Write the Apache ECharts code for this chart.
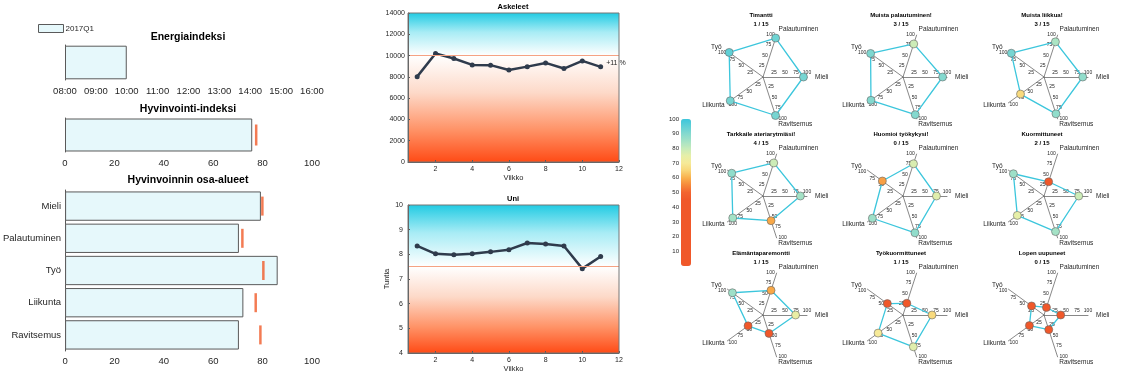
<!DOCTYPE html>
<html>
<head>
<meta charset="utf-8">
<script src="https://cdn.jsdelivr.net/npm/echarts@6/dist/echarts.min.js"></script>
<style>
  html, body { margin: 0; padding: 0; background: #fff; }
  #chart { width: 1122px; height: 376px; }
</style>
</head>
<body>
<div id="chart"></div>
<script>
// --- data ---
const timeTicks = ['08:00', '09:00', '10:00', '11:00', '12:00', '13:00', '14:00', '15:00', '16:00'];
const energyStart = [8];
const energyHours = [2];

const wellbeingIndex = [75.8];
const wellbeingTarget = [77.4];

const areas = ['Mieli', 'Palautuminen', 'Työ', 'Liikunta', 'Ravitsemus'];
const areaValues = [79.3, 70.4, 86.1, 72.2, 70.4];
const areaTargets = [79.9, 71.8, 80.3, 77.2, 79.1];

const weeks = [1, 2, 3, 4, 5, 6, 7, 8, 9, 10, 11];
const weekTicks = [2, 4, 6, 8, 10, 12];
const steps = [8020, 10190, 9720, 9120, 9100, 8650, 8960, 9310, 8780, 9500, 8940];
const stepsGoal = 10000;
const stepsNote = '+11 %';
const sleep = [8.34, 8.02, 7.98, 8.02, 8.10, 8.19, 8.46, 8.42, 8.34, 7.42, 7.91];
const sleepGoal = 7.5;

const radarAxes = ['Mieli', 'Palautuminen', 'Työ', 'Liikunta', 'Ravitsemus'];
const radarTitles = ['Timantti', 'Muista palautuminen!', 'Muista liikkua!',
  'Tarkkaile ateriarytmiäsi!', 'Huomioi työkykysi!', 'Kuormittuneet',
  'Elämäntaparemontti', 'Työkuormittuneet', 'Lopen uupuneet'];
const radarCounts = ['1 / 15', '3 / 15', '3 / 15', '4 / 15', '0 / 15', '2 / 15', '1 / 15', '1 / 15', '0 / 15'];
const timantti = [92, 93, 95, 92, 92];
const muistaPalautuminen = [90, 79, 91, 90, 90];
const muistaLiikkua = [88, 84, 92, 66, 88];
const tarkkaileAteriarytmia = [85, 79, 88, 85, 59];
const huomioiTyokyky = [76, 77, 58, 86, 88];
const kuormittuneet = [79, 34, 86, 75, 85];
const elamantaparemontti = [74, 59, 86, 42, 44];
const tyokuormittuneet = [66, 28, 44, 70, 76];
const lopenUupuneet = [38, 18, 35, 41, 35];
const profiles = [timantti, muistaPalautuminen, muistaLiikkua, tarkkaileAteriarytmia,
  huomioiTyokyky, kuormittuneet, elamantaparemontti, tyokuormittuneet, lopenUupuneet];

// colour scale 0..100 in steps of 5
const colormap = ['#f0582a', '#f0582a', '#f0582a', '#f0582a', '#f0582a', '#f0582a', '#f0582a',
  '#f0582a', '#f0582a', '#f0582a', '#f26430', '#f6883a', '#f9b04c', '#f8d678', '#f6ea98',
  '#e6efa8', '#c6ebbb', '#a4e2c6', '#84d9cf', '#60d0d6', '#3cc6dc'];

// --- layout ---
const FONT = '"Liberation Sans", Arial, Helvetica, sans-serif';
const TXT = '#262626';
const AXC = '#595959';
const barStyle = { color: '#e6f8fb', borderColor: '#5a5a5a', borderWidth: 1 };
const targetColor = '#f05a28';
const radarX = [763, 903, 1044];
const radarY = [77, 196, 315];
const radarCenters = [];
radarY.forEach(y => radarX.forEach(x => radarCenters.push([x, y])));

const chart = echarts.init(document.getElementById('chart'));

function titleAt(text, x, y, size) {
  return { text, left: x, top: y, textAlign: 'center', padding: 0,
    textStyle: { fontSize: size, fontWeight: 'bold', color: '#000', fontFamily: FONT } };
}

function pctAxis(gridIndex, margin) {
  return {
    gridIndex, type: 'value', min: 0, max: 100, interval: 20,
    axisLine: { lineStyle: { color: AXC } },
    axisTick: { inside: true, length: 3, lineStyle: { color: AXC } },
    axisLabel: { fontSize: 9.5, color: TXT, margin },
    splitLine: { show: false }
  };
}

function weekAxis(gridIndex) {
  return {
    gridIndex, type: 'value', min: 0.5, max: 12,
    name: 'Viikko', nameLocation: 'middle', nameGap: 12,
    nameTextStyle: { fontSize: 7.5, color: TXT },
    axisLine: { lineStyle: { color: AXC } },
    axisTick: { inside: true, length: 2, customValues: weekTicks, lineStyle: { color: AXC } },
    axisLabel: { fontSize: 7, color: TXT, margin: 4, customValues: weekTicks },
    splitLine: { show: false }, z: 5
  };
}

function bgAreas(goal, lo, hi) {
  return {
    silent: true,
    data: [
      [{ yAxis: goal, itemStyle: { color: new echarts.graphic.LinearGradient(0, 0, 0, 1, [
          { offset: 0, color: '#22cbe3' }, { offset: 0.45, color: '#a8ecf5' }, { offset: 1, color: '#ffffff' }]) } },
       { yAxis: hi }],
      [{ yAxis: lo, itemStyle: { color: new echarts.graphic.LinearGradient(0, 0, 0, 1, [
          { offset: 0, color: '#ffffff' }, { offset: 0.35, color: '#fdd9c8' },
          { offset: 0.7, color: '#ff9266' }, { offset: 1, color: '#ff4b16' }]) } },
       { yAxis: goal }]
    ]
  };
}

function goalLine(goal) {
  return { silent: true, symbol: 'none', label: { show: false },
    lineStyle: { color: '#f5a283', width: 1, type: 'solid' }, data: [{ yAxis: goal }] };
}

const lineStyleSeries = {
  type: 'line', symbol: 'circle', symbolSize: 5,
  lineStyle: { color: '#2f3b4c', width: 2.5 }, itemStyle: { color: '#2f3b4c' }
};

const series = [
  { type: 'bar', stack: 'e', xAxisIndex: 0, yAxisIndex: 0, data: energyStart, barWidth: '96%',
    itemStyle: { color: 'rgba(0,0,0,0)', borderWidth: 0 }, silent: true },
  { name: '2017Q1', type: 'bar', stack: 'e', xAxisIndex: 0, yAxisIndex: 0, data: energyHours,
    barWidth: '96%', itemStyle: barStyle },
  { type: 'bar', xAxisIndex: 1, yAxisIndex: 1, data: wellbeingIndex, barWidth: '97%', itemStyle: barStyle },
  { type: 'scatter', xAxisIndex: 1, yAxisIndex: 1, data: wellbeingTarget.map((v, i) => [v, i]),
    symbol: 'rect', symbolSize: [2.5, 21], itemStyle: { color: targetColor } },
  { type: 'bar', xAxisIndex: 2, yAxisIndex: 2, data: areaValues, barCategoryGap: '9%', itemStyle: barStyle },
  { type: 'scatter', xAxisIndex: 2, yAxisIndex: 2, data: areaTargets.map((v, i) => [v, i]),
    symbol: 'rect', symbolSize: [2.5, 19], itemStyle: { color: targetColor } },
  Object.assign({}, lineStyleSeries, { xAxisIndex: 3, yAxisIndex: 3,
    data: steps.map((v, i) => i === steps.length - 1
      ? { value: [weeks[i], v], label: { show: true, formatter: stepsNote, position: 'right', offset: [-2, -4],
          fontSize: 7, color: TXT } }
      : [weeks[i], v]),
    markArea: bgAreas(stepsGoal, 0, 14000), markLine: goalLine(stepsGoal) }),
  Object.assign({}, lineStyleSeries, { xAxisIndex: 4, yAxisIndex: 4,
    data: sleep.map((v, i) => [weeks[i], v]),
    markArea: bgAreas(sleepGoal, 4, 10), markLine: goalLine(sleepGoal) })
];

const markerSeries = [];
profiles.forEach((vals, i) => {
  series.push({ type: 'radar', radarIndex: i, symbol: 'none', silent: true,
    lineStyle: { color: '#3cc6dc', width: 1.3 }, data: [{ value: vals }] });
});
profiles.forEach((vals, i) => {
  markerSeries.push(series.length);
  series.push({ type: 'scatter', coordinateSystem: 'polar', polarIndex: i, symbolSize: 8, z: 4,
    itemStyle: { borderColor: '#666', borderWidth: 0.6, opacity: 1 },
    data: vals.map((v, k) => [v, k * 360 / radarAxes.length]) });
});

const option = {
  animation: false,
  textStyle: { fontFamily: FONT },
  title: [
    titleAt('Energiaindeksi', 188, 32, 10.5),
    titleAt('Hyvinvointi-indeksi', 188, 104, 10.5),
    titleAt('Hyvinvoinnin osa-alueet', 188, 175, 10.5),
    titleAt('Askeleet', 513, 3, 7.5),
    titleAt('Uni', 513, 195, 7.5)
  ].concat(radarTitles.map((t, i) => ({
    text: t + '\n' + radarCounts[i], left: radarCenters[i][0] - 2, top: radarCenters[i][1] - 66,
    textAlign: 'center', padding: 0,
    textStyle: { fontSize: 6, fontWeight: 'bold', color: '#000', lineHeight: 9, fontFamily: FONT }
  }))),
  legend: {
    data: ['2017Q1'], left: 38, top: 24, padding: 0, itemWidth: 25, itemHeight: 8, itemGap: 2,
    icon: 'rect', itemStyle: barStyle, textStyle: { fontSize: 8, color: TXT, padding: [0, 0, 0, -3] }
  },
  grid: [
    { left: 65, top: 45, width: 247, height: 35 },
    { left: 65, top: 118, width: 247, height: 34 },
    { left: 65, top: 190, width: 247, height: 161 },
    { left: 408, top: 13, width: 211, height: 149, show: true, borderColor: '#777', borderWidth: 1, z: 6,
      backgroundColor: 'rgba(0,0,0,0)' },
    { left: 408, top: 205, width: 211, height: 148, show: true, borderColor: '#777', borderWidth: 1, z: 6,
      backgroundColor: 'rgba(0,0,0,0)' },
    { left: 681, top: 119, width: 10, height: 147 }
  ],
  xAxis: [
    { gridIndex: 0, type: 'value', min: 8, max: 16, interval: 1,
      axisLine: { lineStyle: { color: AXC } },
      axisTick: { inside: true, length: 3, lineStyle: { color: AXC } },
      axisLabel: { fontSize: 9.5, color: TXT, margin: 6, formatter: v => timeTicks[v - 8] },
      splitLine: { show: false } },
    pctAxis(1, 6),
    pctAxis(2, 5),
    weekAxis(3),
    weekAxis(4),
    { gridIndex: 5, type: 'value', min: 0, max: 1, show: false }
  ],
  yAxis: [
    { gridIndex: 0, type: 'category', data: ['Energiaindeksi'],
      axisLine: { lineStyle: { color: AXC } },
      axisTick: { inside: true, alignWithLabel: true, length: 2, lineStyle: { color: AXC } },
      axisLabel: { show: false } },
    { gridIndex: 1, type: 'category', data: ['Hyvinvointi-indeksi'],
      axisLine: { lineStyle: { color: AXC } },
      axisTick: { inside: true, alignWithLabel: true, length: 2, lineStyle: { color: AXC } },
      axisLabel: { show: false } },
    { gridIndex: 2, type: 'category', data: areas, inverse: true,
      axisLine: { lineStyle: { color: AXC } },
      axisTick: { show: false },
      axisLabel: { fontSize: 9.5, color: TXT, margin: 4 } },
    { gridIndex: 3, type: 'value', min: 0, max: 14000, interval: 2000,
      axisLine: { show: true, lineStyle: { color: AXC } },
      axisTick: { show: true, inside: true, length: 2, lineStyle: { color: AXC } },
      axisLabel: { fontSize: 7, color: TXT, margin: 3, formatter: v => String(v) },
      splitLine: { show: false }, z: 5 },
    { gridIndex: 4, type: 'value', min: 4, max: 10, interval: 1,
      name: 'Tuntia', nameLocation: 'middle', nameGap: 12,
      nameTextStyle: { fontSize: 7.5, color: TXT },
      axisLine: { show: true, lineStyle: { color: AXC } },
      axisTick: { show: true, inside: true, length: 2, lineStyle: { color: AXC } },
      axisLabel: { fontSize: 7, color: TXT, margin: 5 },
      splitLine: { show: false }, z: 5 },
    { gridIndex: 5, type: 'value', min: 0, max: 100, interval: 10,
      axisLine: { show: false }, axisTick: { show: false }, splitLine: { show: false },
      axisLabel: { fontSize: 6, color: TXT, margin: 2, showMinLabel: false } }
  ],
  radar: radarCenters.map(c => ({
    center: c, radius: 44, startAngle: 0, shape: 'polygon', splitNumber: 4,
    indicator: radarAxes.map(n => ({ name: n, min: 0, max: 100 })),
    axisName: { color: TXT, fontSize: 6.5, fontFamily: FONT },
    nameGap: 3,
    axisLine: { lineStyle: { color: '#6a6a6a', width: 0.8 } },
    axisTick: { show: false },
    axisLabel: { show: true, fontSize: 5, color: TXT, margin: 2, showMinLabel: false },
    splitLine: { show: false },
    splitArea: { show: false }
  })),
  polar: radarCenters.map(c => ({ center: c, radius: 44 })),
  angleAxis: radarCenters.map((c, i) => ({ polarIndex: i, type: 'value', min: 0, max: 360,
    startAngle: 0, clockwise: false, show: false })),
  radiusAxis: radarCenters.map((c, i) => ({ polarIndex: i, type: 'value', min: 0, max: 100, show: false })),
  visualMap: {
    type: 'continuous', min: 0, max: 100, dimension: 0, seriesIndex: markerSeries,
    inRange: { color: colormap }, left: 681, top: 119, itemWidth: 10, itemHeight: 147,
    padding: 0, calculable: false, hoverLink: false, text: null, realtime: false
  },
  series
};

chart.setOption(option);
</script>
</body>
</html>
